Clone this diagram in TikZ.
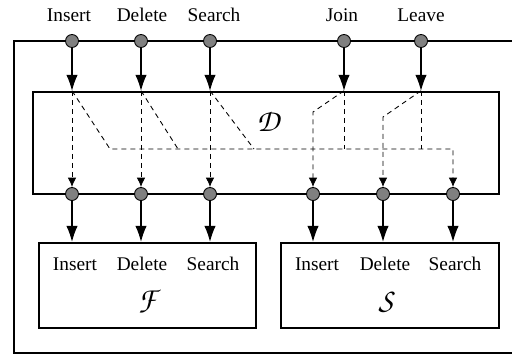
\documentclass[tikz,border=0pt]{standalone}
\usepackage[T1]{fontenc}
\usepackage{fontspec}
\setmainfont{Liberation Serif}
\usetikzlibrary{arrows.meta,positioning,calc}
\newcommand{\chanc}[1]{{\fontencoding{T1}\fontfamily{pzc}\fontseries{mb}\fontshape{it}\fontsize{18}{20}\selectfont #1}}
\tikzset{
  port/.style={circle, draw, fill=gray, inner sep=0pt, minimum size=2.6mm, line width=0.5pt},
  box/.style={draw, line width=1.4pt, inner sep=0pt},
  arr/.style={-{Latex[length=3.2mm,width=2.3mm]}, line width=0.6pt},
  darr/.style={-{Latex[length=1.9mm,width=1.7mm]}, dashed, line width=0.5pt, dash pattern=on 1mm off 0.8mm},
  dln/.style={dashed, line width=0.5pt, dash pattern=on 1mm off 0.8mm},
  lbl/.style={anchor=base, inner sep=0pt, font=\fontsize{11}{13}\selectfont}
}
\begin{document}
\begin{tikzpicture}[x=0.2mm, y=-0.2mm]
\useasboundingbox (0,0) rectangle (512,354);
% outer box, open to the right
\draw[line width=1pt] (516,41) -- (14,41) -- (14,353) -- (516,353);

% inner boxes
\node[box, minimum width=93.2mm, minimum height=20.4mm] (dbox) at (266,143) {};
\node[box, minimum width=43.4mm, minimum height=17mm] (fbox) at (147.5,285.5) {};
\node[box, minimum width=43.6mm, minimum height=17mm] (sbox) at (390,285.5) {};

\node at (268,121) {\chanc{D}};
\node at (147,302) {\chanc{F}};
\node at (386,302) {\chanc{S}};

% inputs
\node[port] (tI) at (72,41) {};
\node[port] (tD) at (141,41) {};
\node[port] (tS) at (210,41) {};
\node[port] (tJ) at (344,41) {};
\node[port] (tL) at (421,41) {};
\node[lbl] (nI) at (69,22) {Insert};
\node[lbl] (nD) at (142,22) {Delete};
\node[lbl] (nS) at (214,22) {Search};
\node[lbl] (nJ) at (342,22) {Join};
\node[lbl] (nL) at (421,22) {Leave};

% outputs of D
\node[port] (fI) at (72,194) {};
\node[port] (fD) at (141,194) {};
\node[port] (fS) at (210,194) {};
\node[port] (sI) at (313,194) {};
\node[port] (sD) at (383,194) {};
\node[port] (sS) at (453,194) {};

% operations of F and S
\node[lbl] (fIn) at (75,270) {Insert};
\node[lbl] (fDe) at (142,270) {Delete};
\node[lbl] (fSe) at (213,270) {Search};
\node[lbl] (sIn) at (317,270) {Insert};
\node[lbl] (sDe) at (385,270) {Delete};
\node[lbl] (sSe) at (455,270) {Search};

\foreach \p in {tI,tD,tS,tJ,tL}
  \draw[arr] (\p) -- (\p |- dbox.north);
\foreach \p in {fI,fD,fS}
  \draw[arr] (\p) -- (\p |- fbox.north);
\foreach \p in {sI,sD,sS}
  \draw[arr] (\p) -- (\p |- sbox.north);

% routing inside D
\coordinate (hl) at (110,149);
\coordinate (hD) at (178,149);
\coordinate (hS) at (254,149);
\coordinate (hJ) at (344,149);
\coordinate (hL) at (421,149);
\coordinate (hr) at (453,149);
\coordinate (kJ) at (313,112);
\coordinate (kL) at (383,117);

\draw[darr] (tI |- dbox.north) -- (fI);
\draw[darr] (tD |- dbox.north) -- (fD);
\draw[darr] (tS |- dbox.north) -- (fS);
\draw[darr] (tI |- dbox.north) -- (hl) -- (hr) -- (sS);
\draw[dln] (tD |- dbox.north) -- (hD);
\draw[dln] (tS |- dbox.north) -- (hS);
\draw[darr] (tJ |- dbox.north) -- (kJ) -- (sI);
\draw[dln] (tJ |- dbox.north) -- (hJ);
\draw[darr] (tL |- dbox.north) -- (kL) -- (sD);
\draw[dln] (tL |- dbox.north) -- (hL);
\end{tikzpicture}
\end{document}
